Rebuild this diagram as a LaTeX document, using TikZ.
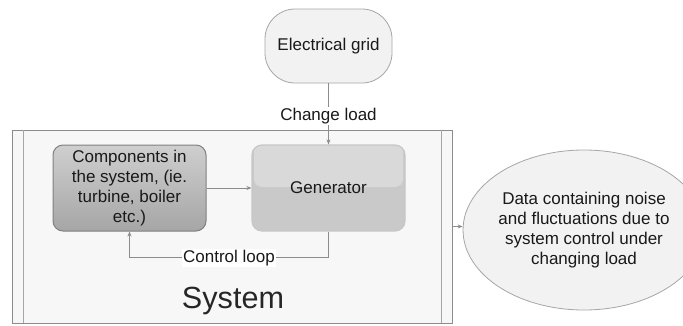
\documentclass[tikz,border=0pt]{standalone}
\usepackage{fontspec}
\setmainfont{Liberation Sans}
\usetikzlibrary{shapes.geometric,arrows.meta,calc}
\definecolor{linegray}{HTML}{8C8C8C}
\definecolor{boxedge}{HTML}{A6A6A6}
\definecolor{softfill}{HTML}{F2F2F2}
\begin{document}
\begin{tikzpicture}[x=1pt,y=-1pt,
  txt/.style={font=\fontsize{17}{20}\selectfont, text=black!90, align=center},
  conn/.style={draw=linegray, line width=0.8pt, -{Stealth[length=5pt,width=4pt]}},
  plain/.style={draw=linegray, line width=0.8pt},
  lbl/.style={txt, fill=white, inner sep=1pt},
  compbox/.style={txt, draw=gray, line width=1pt, rounded corners=10pt,
     minimum width=153pt, minimum height=86pt, inner sep=0pt,
     top color=black!19, bottom color=black!35},
  genbox/.style={txt, draw=black!22, line width=1.2pt, rounded corners=10pt,
     minimum width=153pt, minimum height=86pt, inner sep=0pt, fill=black!21,
     path picture={\fill[black!15, rounded corners=8pt] ($(path picture bounding box.north west)+(2,-2)$) rectangle ($(path picture bounding box.east)+(-2,-1)$);}},
  gridbox/.style={txt, draw=boxedge, line width=0.8pt, fill=softfill, rounded corners=30pt,
     minimum width=127pt, minimum height=74pt},
  sysbox/.style={draw=linegray, line width=0.8pt, fill=softfill!60}
]
\useasboundingbox (0,0) rectangle (683,325);
% system frame
\node[sysbox, minimum width=440pt, minimum height=193pt, inner sep=0pt] (sys) at (232,226.5) {};
\draw[plain, draw=boxedge] (23,130) -- (23,323);
\draw[plain, draw=boxedge] (441,130) -- (441,323);
\node[font=\fontsize{30.6}{34}\selectfont, text=black!85] (systxt) at (233,301) {System};
% electrical grid
\node[gridbox] (grid) at (328.5,46) {Electrical grid};
% components and generator
\node[compbox] (comp) at (129.5,188) {Components in\\the system, (ie.\\turbine, boiler\\etc.)};
\node[genbox] (gen) at (328.5,188) {Generator};
% data ellipse
\node[ellipse, draw=boxedge, line width=0.8pt, fill=softfill, minimum width=202pt, minimum height=160pt, inner sep=0pt, txt] (data) at (584,230) {Data containing noise\\and fluctuations due to\\system control under\\changing load};
% connectors
\draw[conn] (grid.south) -- node[lbl, pos=0.53] (chg) {Change load} (gen.north);
\draw[conn] (comp.east) -- (gen.west);
\coordinate (loopR) at ($(gen.south)+(0,26)$);
\coordinate (loopL) at (comp.south |- loopR);
\draw[conn] (gen.south) -- (loopR) -- node[lbl, pos=0.5] (ctl) {Control loop} (loopL) -- (comp.south);
\draw[conn] (sys.east) -- (sys.east -| data.west);
\end{tikzpicture}
\end{document}
